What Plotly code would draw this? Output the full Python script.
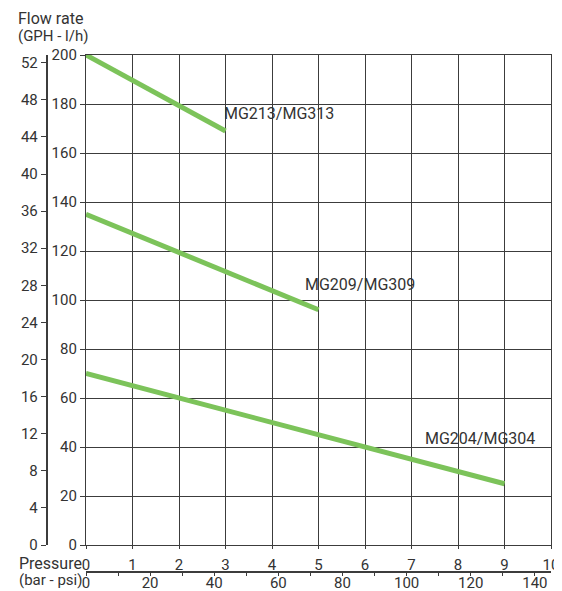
import plotly.graph_objects as go

# ---- data ----
pressure_bar_213 = [0, 3]
flow_lh_213 = [200, 169]
pressure_bar_209 = [0, 5]
flow_lh_209 = [135, 96]
pressure_bar_204 = [0, 9]
flow_lh_204 = [70, 25]

series_names = ["MG213/MG313", "MG209/MG309", "MG204/MG304"]
label_pos_x = [2.93, 4.67, 7.24]
label_pos_y = [176, 106.5, 43.5]

bar_ticks = list(range(0, 11))
lh_ticks = list(range(0, 201, 20))
gph_ticks = list(range(0, 53, 4))
psi_ticks = list(range(0, 141, 20))

LH_PER_GAL = 3.78541
PSI_PER_BAR = 14.5038

# ---- layout geometry (screen pixels; page body has an 8px margin) ----
OFF = 8
W, H = 562 - OFF, 591 - OFF
plot_left_px = 86 - OFF
plot_right_px = 551 - OFF
plot_bottom_px = 545 - OFF
L, R, T, B = 40 - OFF, W - plot_right_px, 55 - OFF, 8
pw = W - L - R
ph = H - T - B
xdom0 = (plot_left_px - L) / pw
ydom0 = (H - B - plot_bottom_px) / ph

def px_x(p):
    return (p - OFF - L) / pw

def px_y(p):
    return (H - B - (p - OFF)) / ph

GREEN = "#7CC35A"
GRID = "#3c3c3c"
TXT = "#333333"
FONT = "Roboto"

fig = go.Figure()
for xs, ys, name in [(pressure_bar_213, flow_lh_213, series_names[0]),
                     (pressure_bar_209, flow_lh_209, series_names[1]),
                     (pressure_bar_204, flow_lh_204, series_names[2])]:
    fig.add_trace(go.Scatter(x=xs, y=ys, mode="lines", name=name,
                             line=dict(color=GREEN, width=5), showlegend=False,
                             xaxis="x", yaxis="y"))

# invisible traces to activate secondary axes
fig.add_trace(go.Scatter(x=[0], y=[0], mode="markers", marker=dict(opacity=0),
                         xaxis="x2", yaxis="y", showlegend=False, hoverinfo="skip"))
fig.add_trace(go.Scatter(x=[0], y=[0], mode="markers", marker=dict(opacity=0),
                         xaxis="x", yaxis="y2", showlegend=False, hoverinfo="skip"))

for name, lx, ly in zip(series_names, label_pos_x, label_pos_y):
    fig.add_annotation(x=lx, y=ly, xref="x", yref="y", text=name, showarrow=False,
                       xanchor="left", yanchor="middle",
                       font=dict(family=FONT, size=16, color=TXT))

titles = [("Flow rate", 16, 18, 16), ("(GPH - l/h)", 16, 35.5, 15),
          ("Pressure", 17, 563, 16), ("(bar - psi)", 17, 580, 15)]
for txt, x0, yc, fs in titles:
    fig.add_annotation(x=px_x(x0), y=px_y(yc), xref="paper", yref="paper", text=txt,
                       showarrow=False, xanchor="left", yanchor="middle",
                       font=dict(family=FONT, size=fs, color=TXT))

fig.update_layout(
    width=W, height=H,
    margin=dict(l=L, r=R, t=T, b=B, autoexpand=False),
    plot_bgcolor="white", paper_bgcolor="white",
    font=dict(family=FONT, size=15, color=TXT),
    xaxis=dict(domain=[xdom0, 1], range=[0, 10], tickvals=bar_ticks,
               showgrid=True, gridcolor=GRID, gridwidth=1.2,
               showline=True, linecolor=GRID, linewidth=1.2, mirror=True,
               ticks="outside", ticklen=3, tickcolor=GRID,
               ticklabelstandoff=3, ticklabeloverflow="allow",
               zeroline=False, anchor="y", tickfont=dict(size=15, color=TXT)),
    yaxis=dict(domain=[ydom0, 1], range=[0, 200], tickvals=lh_ticks,
               showgrid=True, gridcolor=GRID, gridwidth=1.2,
               showline=True, linecolor=GRID, linewidth=1.2, mirror=True,
               ticks="outside", ticklen=5, tickcolor=GRID,
               zeroline=False, anchor="x", tickfont=dict(size=15, color=TXT)),
    xaxis2=dict(overlaying="x", domain=[xdom0, 1], range=[0, 10 * PSI_PER_BAR],
                anchor="free", position=px_y(571.5), side="bottom",
                tickvals=psi_ticks, showgrid=False, zeroline=False,
                showline=True, linecolor=GRID, linewidth=1.5,
                ticks="outside", ticklen=4, tickcolor=GRID,
                ticklabelstandoff=-6, ticklabeloverflow="allow",
                minor=dict(dtick=10, tick0=0, ticks="outside", ticklen=4, tickcolor=GRID, showgrid=False),
                tickfont=dict(size=15, color=TXT)),
    yaxis2=dict(overlaying="y", domain=[ydom0, 1], range=[0, 200 / LH_PER_GAL],
                anchor="free", position=px_x(46.5), side="left",
                tickvals=gph_ticks, showgrid=False, zeroline=False,
                showline=True, linecolor=GRID, linewidth=1.5,
                ticks="outside", ticklen=5, tickcolor=GRID,
                tickfont=dict(size=15, color=TXT)),
)

fig.write_html("out.html")
